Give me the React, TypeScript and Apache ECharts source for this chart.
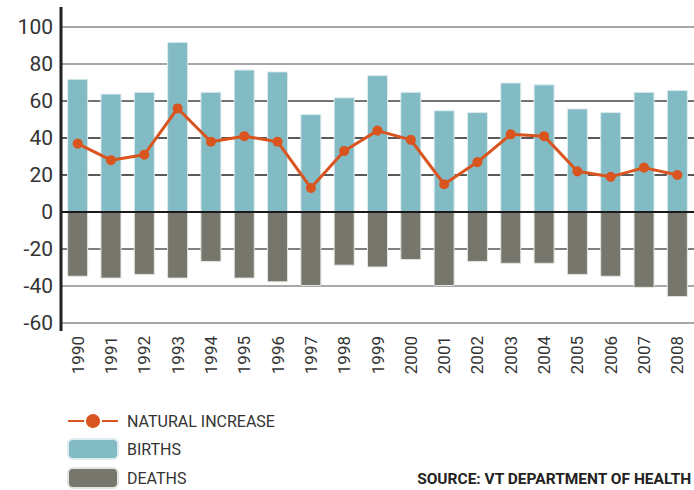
import React, { useEffect, useRef } from "react";
import * as echarts from "echarts";

const years = ["1990","1991","1992","1993","1994","1995","1996","1997","1998","1999","2000","2001","2002","2003","2004","2005","2006","2007","2008"];
const births = [72, 64, 65, 92, 65, 77, 76, 53, 62, 74, 65, 55, 54, 70, 69, 56, 54, 65, 66];
const deaths = [-35, -36, -34, -36, -27, -36, -38, -40, -29, -30, -26, -40, -27, -28, -28, -34, -35, -41, -46];
const naturalIncrease = [37, 28, 31, 56, 38, 41, 38, 13, 33, 44, 39, 15, 27, 42, 41, 22, 19, 24, 20];

const FONT = "Roboto, 'Noto Sans', sans-serif";

const legendBase = {
  orient: "vertical",
  left: 67,
  padding: 0,
  itemWidth: 50,
  itemHeight: 20,
  textStyle: { fontFamily: FONT, fontSize: 16, color: "#333", padding: [0, 0, 0, 4] },
};

export default function App() {
  const ref = useRef<HTMLDivElement>(null);
  useEffect(() => {
    if (!ref.current) return;
    const chart = echarts.init(ref.current, null, { renderer: "svg" });
    chart.setOption({
      animation: false,
      textStyle: { fontFamily: FONT },
      grid: { left: 61, right: -4, top: 27, bottom: 167, containLabel: false },
      legend: [
        {
          ...legendBase,
          top: 412,
          data: [{ name: "NATURAL INCREASE", itemStyle: { borderColor: "#fff", borderWidth: 2 } }],
        },
        { ...legendBase, top: 438, data: ["BIRTHS"] },
        { ...legendBase, top: 467, data: ["DEATHS"] },
      ],
      xAxis: {
        type: "category",
        data: years,
        axisLine: { show: false },
        axisTick: { show: false },
        axisLabel: { rotate: 90, margin: 13, fontSize: 17, color: "#333", fontFamily: FONT },
      },
      yAxis: {
        type: "value",
        min: -60,
        max: 100,
        interval: 20,
        axisLine: { show: false },
        axisTick: { show: false },
        axisLabel: { fontSize: 21, color: "#333", margin: 8, fontFamily: FONT },
        splitLine: {
          lineStyle: {
            width: 1.5,
            color: ["#8a8a8a", "#8a8a8a", "#555", "#222", "#222", "#222", "#444", "#8a8a8a", "#8a8a8a"],
          },
        },
      },
      series: [
        {
          name: "BIRTHS",
          type: "bar",
          stack: "total",
          data: births,
          barWidth: 21,
          itemStyle: { color: "#82bbc3", borderColor: "#dcecee", borderWidth: 1 },
          markLine: {
            silent: true,
            symbol: "none",
            label: { show: false },
            lineStyle: { color: "#1a1a1a", width: 2, type: "solid" },
            data: [{ yAxis: 0 }],
          },
        },
        {
          name: "DEATHS",
          type: "bar",
          stack: "total",
          data: deaths,
          barWidth: 21,
          itemStyle: { color: "#76766c", borderColor: "#e4e4e0", borderWidth: 1 },
        },
        {
          name: "NATURAL INCREASE",
          type: "line",
          data: naturalIncrease,
          symbol: "circle",
          symbolSize: 10,
          lineStyle: { color: "#d9541e", width: 3 },
          itemStyle: { color: "#d9541e" },
          z: 5,
        },
      ],
      graphic: [
        {
          type: "line",
          shape: { x1: 61, y1: 7, x2: 61, y2: 331 },
          style: { stroke: "#222", lineWidth: 3 },
          z: 10,
        },
        {
          type: "text",
          right: 2,
          top: 471,
          style: {
            text: "SOURCE: VT DEPARTMENT OF HEALTH",
            font: "bold 15.5px " + FONT,
            fill: "#222",
          },
        },
      ],
    });
    return () => chart.dispose();
  }, []);
  return <div ref={ref} style={{ width: 694, height: 490, position: "absolute", left: 0, top: 0 }} />;
}
